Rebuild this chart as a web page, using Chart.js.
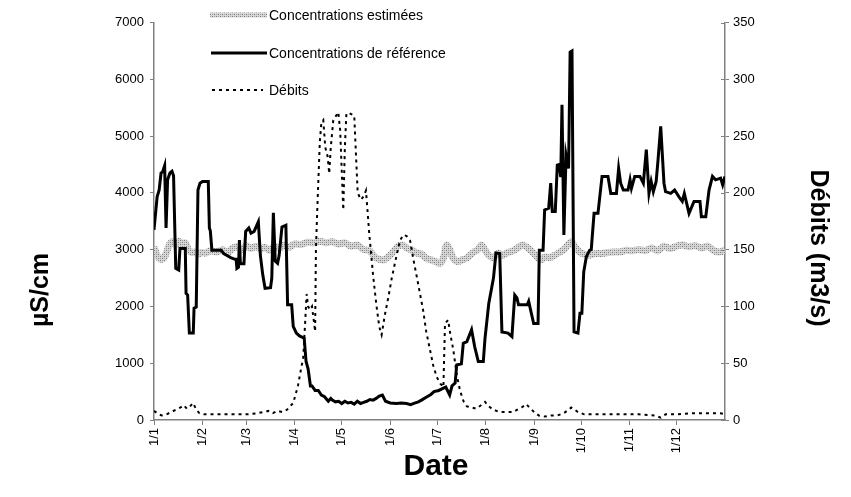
<!DOCTYPE html>
<html>
<head>
<meta charset="utf-8">
<script src="https://cdn.jsdelivr.net/npm/chart.js@4.4.0/dist/chart.umd.min.js"></script>
<style>
  body { margin: 0; background: #fff; }
  #wrap { width: 851px; height: 497px; position: relative; }
</style>
</head>
<body>
<div id="wrap"><canvas id="graf"></canvas></div>
<script>
// axe des dates (jour de l'annee) et etiquettes mensuelles
const debutsMois = [0, 31, 59, 90, 120, 151, 181, 212, 243, 273, 304, 334];
const etiquettesMois = ["1/1", "1/2", "1/3", "1/4", "1/5", "1/6", "1/7", "1/8", "1/9", "1/10", "1/11", "1/12"];

// concentrations de reference (uS/cm)
const refJours = [0, 2, 3.3, 4.5, 5.5, 6.8, 7.7, 8.7, 10.2, 11.5, 12.5, 13.9, 15.8, 16.6, 20, 20.5, 21.5, 22.6, 25.1, 25.6,
  27, 28.1, 29.4, 31, 34.7, 35.4, 36, 37, 43, 44.5, 46.4, 49, 51.8, 52.5, 53, 54, 54.6, 55.2, 57.5, 58.6,
  60.6, 62, 64, 66.7, 68, 69.5, 71, 74.5, 75.3, 76.3, 77.5, 79, 80, 81.8, 84.3, 85.4, 88, 89, 91, 93,
  96, 97.2, 98.5, 100, 101, 103, 105, 107, 109, 111.4, 113, 114, 116, 118, 120, 122, 124, 126, 128, 130,
  132, 134, 136, 138, 140, 142, 144, 146, 148, 151, 155, 158, 161.5, 164, 167, 169, 171, 174, 177, 179,
  182, 185, 186.5, 189, 190.5, 192.5, 193.5, 196.5, 197.7, 200, 203, 205, 207.3, 210.5, 211.6, 214, 217, 218.6, 221, 222.4,
  226.3, 228.8, 230.6, 232, 233, 238.6, 239.5, 241.2, 242.7, 245.5, 246.3, 248.7, 249.7, 252.3, 253.6, 254.6, 256.5, 257.8, 259, 260,
  260.8, 262, 263.4, 265, 266, 267.2, 268.5, 271, 272.3, 273.5, 274.7, 276.4, 278.5, 279.5, 281.3, 283.8, 286.4, 290.2, 292, 295.6,
  297, 298.3, 300, 303, 304.3, 305.2, 307.3, 310.6, 312.8, 314.7, 316.4, 317.8, 319.2, 321, 322.2, 323.9, 326, 327, 330.3, 332.8,
  335.6, 337.7, 339, 342, 345.2, 349, 349.9, 352.7, 354.8, 357, 359, 362.2, 363.5, 365];
const refValeurs = [3350, 3930, 4050, 4350, 4370, 4480, 3380, 4230, 4350, 4380, 4300, 2670, 2640, 3020, 3020, 2230, 2200, 1530, 1530, 1970,
  1990, 4050, 4170, 4200, 4200, 3380, 3330, 2990, 2990, 2930, 2900, 2860, 2830, 2830, 2670, 2690, 3170, 2750, 2750, 3320,
  3380, 3290, 3320, 3490, 2900, 2560, 2320, 2330, 2500, 3650, 2800, 2760, 2900, 3400, 3430, 2030, 2030, 1650, 1530, 1480,
  1440, 1030, 900, 600, 600, 520, 520, 440, 410, 330, 380, 350, 320, 330, 290, 330, 300, 310, 280, 330,
  290, 310, 330, 360, 350, 380, 420, 440, 330, 300, 290, 300, 290, 270, 300, 320, 350, 400, 450, 500,
  520, 560, 580, 440, 600, 650, 970, 990, 1350, 1380, 1590, 1290, 1030, 1030, 1440, 2050, 2500, 2940, 2930, 1550,
  1530, 1470, 2200, 2150, 2030, 2030, 2090, 1880, 1700, 1700, 2990, 2990, 3700, 3730, 4170, 3670, 3670, 4490, 4500, 4280,
  5550, 3260, 4670, 4430, 6480, 6500, 1550, 1530, 1880, 1880, 2610, 2880, 2990, 3000, 3640, 3640, 4290, 4290, 3990, 3990,
  4430, 4170, 4050, 4050, 4230, 4080, 4290, 4290, 4170, 4760, 3990, 4200, 4020, 4200, 4580, 5170, 4170, 4020, 3990, 4050,
  3930, 3850, 3990, 3640, 3850, 3850, 3580, 3580, 4050, 4290, 4230, 4260, 4140, 4290];

// concentrations estimees (uS/cm)
const estJours = [0, 2, 4, 6, 8, 10, 12, 14, 16, 18, 20, 22, 24, 26, 28, 30, 33, 36, 40, 44,
  47, 50, 53, 56, 59, 62, 65, 68, 71, 74, 77, 80, 83, 86, 90, 94, 98, 102, 106, 110,
  114, 118, 122, 126, 130, 134, 138, 141, 144, 147, 150, 153, 156, 159, 162, 165, 168, 171, 174, 177,
  180, 183, 185, 187, 189, 191, 194, 197, 200, 204, 207, 209, 211, 214, 217, 220, 223, 226, 229, 232,
  235, 238, 241, 244, 247, 250, 253, 256, 259, 262, 265, 267, 269, 272, 275, 278, 282, 286, 290, 294,
  298, 302, 306, 310, 314, 318, 322, 326, 330, 334, 338, 342, 346, 350, 354, 358, 362, 365];
const estValeurs = [3050, 2900, 2830, 2840, 2950, 3100, 3140, 3080, 3150, 3100, 3120, 3000, 2950, 2960, 2920, 2950, 2940, 2980, 2960, 3000,
  2940, 3020, 3050, 2990, 3070, 3020, 3060, 3010, 3040, 2990, 3060, 3020, 3080, 3040, 3100, 3090, 3130, 3120, 3150, 3120,
  3140, 3100, 3120, 3060, 3080, 3000, 2980, 2870, 2830, 2820, 2880, 2960, 3060, 3080, 3020, 2990, 2940, 2920, 2850, 2820,
  2790, 2760, 2850, 3080, 3000, 2860, 2790, 2820, 2850, 2950, 3000, 3080, 3020, 2900, 2860, 2940, 2900, 2950, 2970, 3020,
  3080, 3050, 2980, 2900, 2820, 2870, 2860, 2900, 2950, 3000, 3100, 3140, 3050, 2960, 2920, 2900, 2930, 2930, 2950, 2960,
  2960, 2990, 2980, 3000, 2980, 3030, 2980, 3060, 3020, 3060, 3080, 3050, 3070, 3030, 3060, 2980, 2960, 3000];

// debits (m3/s)
const debJours = [0, 3, 5, 8, 11, 14, 17, 19, 21, 23, 25, 27, 29, 32, 40, 50, 60, 66, 70, 73,
  76, 79, 82, 85, 87, 89, 92, 94, 95.4, 97.6, 98.5, 99.7, 101, 103, 103.5, 104.5, 106, 107, 108.2, 109.5,
  111, 112, 113, 114.6, 116, 117.8, 119, 121, 122, 123, 125, 128, 130.2, 132.3, 134, 135.5, 137.6, 140, 142, 144,
  145.5, 147.5, 149.8, 152, 154, 157.2, 159.4, 161.5, 163.7, 166, 168, 172, 174, 176.4, 178.5, 180.7, 183, 185, 186, 188,
  189.5, 191.3, 193.5, 195.6, 198, 200, 203, 206, 209, 211.6, 214, 217, 221, 225, 229.5, 232, 235, 238, 240, 243,
  246, 250, 254, 258, 262, 265, 266.7, 268, 271, 275, 280, 290, 300, 310, 320, 324, 327, 335, 345, 355,
  362, 365];
const debValeurs = [8, 5, 4, 5, 7, 9, 11, 13, 10, 12, 15, 9, 6, 5, 5, 5, 5, 6, 7, 8,
  6, 8, 7, 9, 12, 15, 30, 45, 55, 111, 100, 97, 100, 78, 150, 190, 245, 262, 264, 240,
  232, 217, 240, 264, 267, 271, 255, 185, 240, 270, 270, 268, 200, 194, 197, 202, 164, 128, 103, 82,
  75, 92, 108, 125, 138, 158, 163, 162, 158, 140, 126, 97, 78, 62, 48, 38, 32, 29, 85, 88,
  75, 62, 40, 26, 16, 12, 11, 10, 13, 16, 12, 9, 7, 7, 7, 9, 11, 14, 11, 7,
  4, 3, 4, 4, 6, 9, 11, 10, 7, 5, 5, 5, 5, 5, 4, 2, 5, 5, 6, 6,
  6, 5];

const titreGauche = "µS/cm";
const titreDroite = "Débits (m3/s)";
const titreX = "Date";
const police = "'Liberation Sans', Arial, sans-serif";

function points(jours, valeurs) {
  return jours.map((j, i) => ({ x: j, y: valeurs[i] }));
}

// trait grise pointille, comme la serie estimee
function motifGris() {
  let c = document.createElement("canvas");
  c.width = 4; c.height = 4;
  let g = c.getContext("2d");
  g.fillStyle = "#d6d6d6"; g.fillRect(0, 0, 4, 4);
  g.fillStyle = "#7c7c7c"; g.fillRect(0, 0, 1, 1); g.fillRect(2, 2, 1, 1);
  g.fillStyle = "#a6a6a6"; g.fillRect(2, 0, 1, 1); g.fillRect(0, 2, 1, 1);
  return g.createPattern(c, "repeat");
}
const gris = motifGris();

const decor = {
  id: "decor",
  afterDraw(chart) {
    const ctx = chart.ctx;
    const yd = chart.scales.y1;
    const area = chart.chartArea;
    ctx.save();
    // petites marques interieures sur l'axe de droite
    ctx.strokeStyle = "#808080";
    ctx.lineWidth = 1;
    yd.ticks.forEach(t => {
      let py = Math.round(yd.getPixelForValue(t.value)) + 0.5;
      ctx.beginPath(); ctx.moveTo(area.right - 4, py); ctx.lineTo(area.right, py); ctx.stroke();
    });
    // legende
    ctx.font = "14px " + police;
    ctx.fillStyle = "#000";
    ctx.textBaseline = "middle";
    ctx.textAlign = "left";
    const lignes = [
      { y: 15, txt: "Concentrations estimées", x0: 210, x1: 267, style: gris, w: 5, dash: [] },
      { y: 53, txt: "Concentrations de référence", x0: 211, x1: 267, style: "#000", w: 3, dash: [] },
      { y: 90, txt: "Débits", x0: 212, x1: 263, style: "#000", w: 2, dash: [3, 4] }
    ];
    lignes.forEach(l => {
      ctx.beginPath();
      ctx.setLineDash(l.dash);
      ctx.strokeStyle = l.style;
      ctx.lineWidth = l.w;
      ctx.moveTo(l.x0, l.y); ctx.lineTo(l.x1, l.y); ctx.stroke();
      ctx.fillText(l.txt, 269, l.y + 1);
    });
    ctx.setLineDash([]);
    // titres des axes
    ctx.textAlign = "center";
    ctx.font = "bold 25px " + police;
    ctx.save();
    ctx.translate(41, 290);
    ctx.rotate(-Math.PI / 2);
    ctx.fillText(titreGauche, 0, 0);
    ctx.restore();
    ctx.save();
    ctx.translate(818, 248);
    ctx.rotate(Math.PI / 2);
    ctx.fillText(titreDroite, 0, 0);
    ctx.restore();
    ctx.font = "bold 30px " + police;
    ctx.fillText(titreX, 436, 467);
    ctx.restore();
  }
};

const tickFont = { family: police, size: 13 };

new Chart(document.getElementById("graf"), {
  type: "line",
  data: {
    datasets: [
      {
        label: "Débits",
        data: points(debJours, debValeurs),
        yAxisID: "y1",
        borderColor: "#000",
        borderWidth: 2,
        borderDash: [3, 4],
        pointRadius: 0,
        tension: 0
      },
      {
        label: "Concentrations de référence",
        data: points(refJours, refValeurs),
        yAxisID: "y",
        borderColor: "#000",
        borderWidth: 3,
        pointRadius: 0,
        tension: 0
      },
      {
        label: "Concentrations estimées",
        data: points(estJours, estValeurs),
        yAxisID: "y",
        borderColor: gris,
        borderWidth: 7,
        pointRadius: 0,
        tension: 0.3
      }
    ]
  },
  options: {
    responsive: true,
    maintainAspectRatio: false,
    animation: false,
    layout: { padding: { top: 22.5, left: 0, right: 0, bottom: 0 } },
    plugins: { legend: { display: false }, tooltip: { enabled: false } },
    scales: {
      x: {
        type: "linear",
        min: 0,
        max: 365,
        afterBuildTicks: s => { s.ticks = debutsMois.map(v => ({ value: v })); },
        afterFit: s => { s.height = 77; },
        ticks: {
          minRotation: 90,
          maxRotation: 90,
          padding: 3,
          color: "#000",
          font: tickFont,
          callback: v => etiquettesMois[debutsMois.indexOf(v)]
        },
        grid: { drawOnChartArea: false, drawTicks: true, tickLength: 5, color: "#808080" },
        border: { display: true, color: "#808080", width: 1.5 }
      },
      y: {
        position: "left",
        min: 0,
        max: 7000,
        afterFit: s => { s.width = 154; },
        ticks: { stepSize: 1000, padding: 6, color: "#000", font: tickFont, callback: v => String(v) },
        grid: { drawOnChartArea: false, drawTicks: true, tickLength: 4, color: "#808080" },
        border: { display: true, color: "#808080", width: 1.5 }
      },
      y1: {
        position: "right",
        min: 0,
        max: 350,
        afterFit: s => { s.width = 126; },
        ticks: { stepSize: 50, padding: 4, color: "#000", font: tickFont, callback: v => String(v) },
        grid: { drawOnChartArea: false, drawTicks: true, tickLength: 4, color: "#808080" },
        border: { display: true, color: "#808080", width: 1.5 }
      }
    }
  },
  plugins: [decor]
});
</script>
</body>
</html>
